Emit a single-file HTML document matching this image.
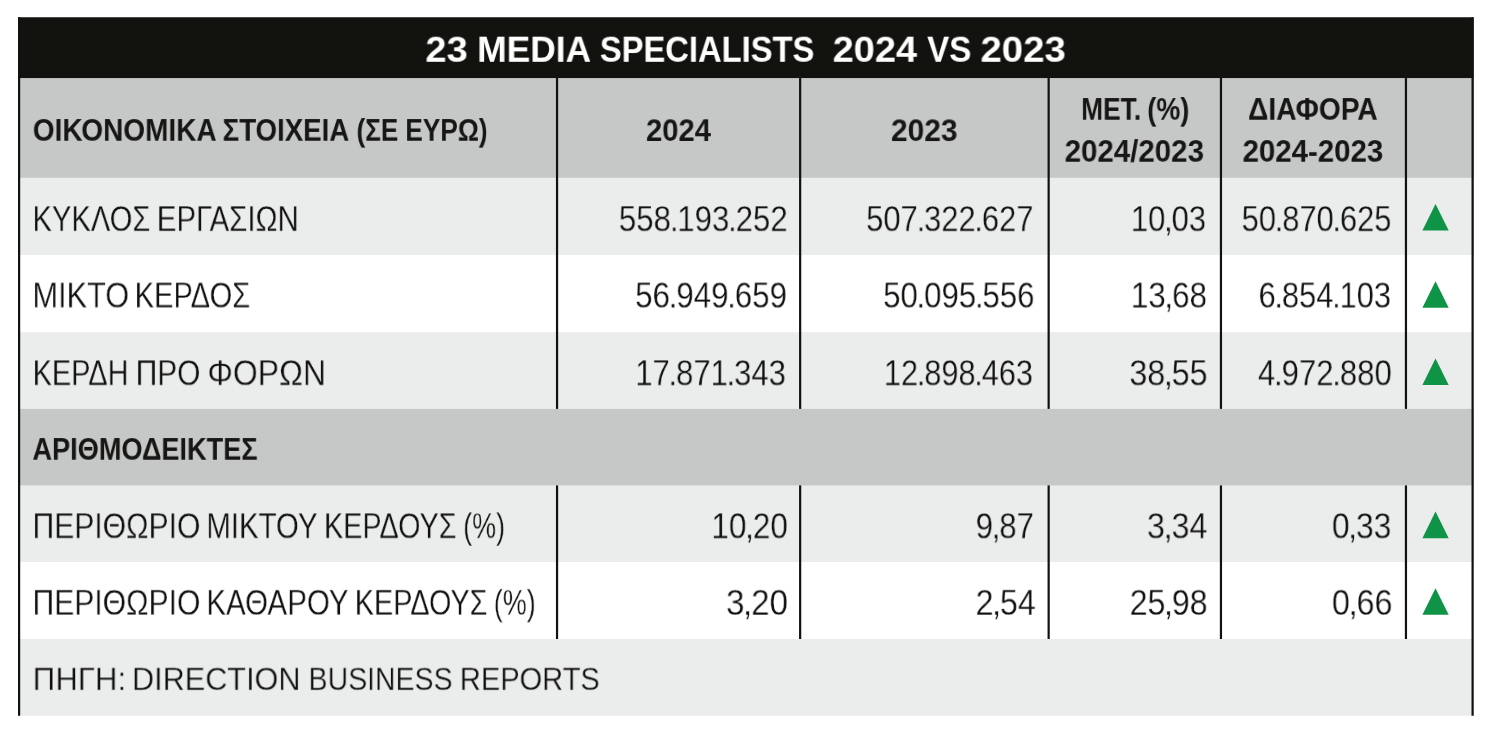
<!DOCTYPE html>
<html lang="el"><head><meta charset="utf-8"><title>23 MEDIA SPECIALISTS 2024 VS 2023</title>
<style>
html,body{margin:0;padding:0;background:#fff;}
body{width:1493px;height:742px;position:relative;overflow:hidden;font-family:"Liberation Sans",sans-serif;}
.bgsvg{position:absolute;left:0;top:0;display:block;}
.t{will-change:transform;position:absolute;left:0;top:0;white-space:nowrap;line-height:1;transform-origin:0 0;display:block;font-family:"Liberation Sans",sans-serif;}
.T{font-weight:bold;font-size:36.0px;color:#ffffff;}
.H{font-weight:bold;font-size:31.5px;color:#161614;}
.B{font-weight:normal;font-size:36.0px;color:#10100e;}
.N{font-weight:normal;font-size:36.0px;color:#10100e;}
.F{font-weight:normal;font-size:32.5px;color:#10100e;}

.N i{font-style:normal;margin:0 -0.04em;}
</style></head><body>

<svg class="bgsvg" width="1493" height="742" viewBox="0 0 1493 742">
<rect x="18.0" y="17.25" width="1455.60" height="698.50" fill="#12120e"/>
<rect x="18.0" y="78.05" width="1455.60" height="637.70" fill="#c6c8c7"/>
<rect x="18.0" y="177.8" width="1455.60" height="537.95" fill="#ebedec"/>
<rect x="18.0" y="255.0" width="1455.60" height="460.75" fill="#ffffff"/>
<rect x="18.0" y="332.2" width="1455.60" height="383.55" fill="#ebedec"/>
<rect x="18.0" y="408.9" width="1455.60" height="306.85" fill="#c6c8c7"/>
<rect x="18.0" y="485.4" width="1455.60" height="230.35" fill="#ebedec"/>
<rect x="18.0" y="562.0" width="1455.60" height="153.75" fill="#ffffff"/>
<rect x="18.0" y="639.0" width="1455.60" height="76.75" fill="#ebedec"/>
<rect x="18.00" y="17.25" width="2.2" height="698.50" fill="#111210"/>
<rect x="1471.50" y="17.25" width="2.2" height="698.50" fill="#111210"/>
<rect x="555.95" y="78.05" width="2.2" height="330.85" fill="#111210"/>
<rect x="555.95" y="485.4" width="2.2" height="153.60" fill="#111210"/>
<rect x="799.05" y="78.05" width="2.2" height="330.85" fill="#111210"/>
<rect x="799.05" y="485.4" width="2.2" height="153.60" fill="#111210"/>
<rect x="1047.55" y="78.05" width="2.2" height="330.85" fill="#111210"/>
<rect x="1047.55" y="485.4" width="2.2" height="153.60" fill="#111210"/>
<rect x="1219.85" y="78.05" width="2.2" height="330.85" fill="#111210"/>
<rect x="1219.85" y="485.4" width="2.2" height="153.60" fill="#111210"/>
<rect x="1404.85" y="78.05" width="2.2" height="330.85" fill="#111210"/>
<rect x="1404.85" y="485.4" width="2.2" height="153.60" fill="#111210"/>
<polygon points="1435.5,204.00 1448.7,230.60 1422.4,230.60" fill="#0f9347"/>
<polygon points="1435.5,281.20 1448.7,307.80 1422.4,307.80" fill="#0f9347"/>
<polygon points="1435.5,358.40 1448.7,385.00 1422.4,385.00" fill="#0f9347"/>
<polygon points="1435.5,511.60 1448.7,538.20 1422.4,538.20" fill="#0f9347"/>
<polygon points="1435.5,588.20 1448.7,614.80 1422.4,614.80" fill="#0f9347"/>
</svg>
<div class="band title">
<span class="t T" style="transform:translate(425.36px,32.80px) scale(1.0579,0.965)">23</span>
<span class="t T" style="transform:translate(477.22px,32.80px) scale(0.9818,0.965)">MEDIA</span>
<span class="t T" style="transform:translate(599.84px,32.80px) scale(0.9088,0.965)">SPECIALISTS</span>
<span class="t T" style="transform:translate(832.66px,32.80px) scale(1.0542,0.965)">2024</span>
<span class="t T" style="transform:translate(927.15px,32.80px) scale(0.9205,0.965)">VS</span>
<span class="t T" style="transform:translate(980.45px,32.80px) scale(1.0655,0.965)">2023</span>
</div>
<div class="band head">
<span class="t H" style="transform:translate(32.81px,115.11px) scale(0.8892,0.986)">ΟΙΚΟΝΟΜΙΚΑ</span>
<span class="t H" style="transform:translate(222.57px,115.11px) scale(0.8784,0.986)">ΣΤΟΙΧΕΙΑ</span>
<span class="t H" style="transform:translate(356.55px,115.11px) scale(0.8255,0.986)">(ΣΕ</span>
<span class="t H" style="transform:translate(405.33px,115.11px) scale(0.8327,0.986)">ΕΥΡΩ)</span>
<span class="t H" style="transform:translate(645.97px,115.31px) scale(0.9285,0.986)">2024</span>
<span class="t H" style="transform:translate(890.94px,115.41px) scale(0.9518,0.986)">2023</span>
<span class="t H" style="transform:translate(1081.12px,94.11px) scale(0.8364,0.986)">ΜΕΤ.</span>
<span class="t H" style="transform:translate(1147.28px,94.11px) scale(0.8578,0.986)">(%)</span>
<span class="t H" style="transform:translate(1064.66px,136.11px) scale(0.9355,0.986)">2024/2023</span>
<span class="t H" style="transform:translate(1248.03px,94.11px) scale(0.8939,0.986)">ΔΙΑΦΟΡΑ</span>
<span class="t H" style="transform:translate(1242.56px,136.11px) scale(0.9345,0.986)">2024-2023</span>
</div>
<div class="band r1">
<span class="t B" style="-webkit-text-stroke:0.3px #ebedec;transform:translate(32.46px,202.27px) scale(0.8106,0.961)">ΚΥΚΛΟΣ</span>
<span class="t B" style="-webkit-text-stroke:0.3px #ebedec;transform:translate(156.84px,202.27px) scale(0.8172,0.961)">ΕΡΓΑΣΙΩΝ</span>
<span class="t N" style="-webkit-text-stroke:0.3px #ebedec;transform:translate(618.83px,202.18px) scale(0.8681,0.969)">558<i>.</i>193<i>.</i>252</span>
<span class="t N" style="-webkit-text-stroke:0.3px #ebedec;transform:translate(866.15px,202.18px) scale(0.8602,0.969)">507<i>.</i>322<i>.</i>627</span>
<span class="t N" style="-webkit-text-stroke:0.3px #ebedec;transform:translate(1130.86px,202.18px) scale(0.8616,0.969)">10<i>,</i>03</span>
<span class="t N" style="-webkit-text-stroke:0.3px #ebedec;transform:translate(1241.65px,202.18px) scale(0.8585,0.969)">50<i>.</i>870<i>.</i>625</span>
</div>
<div class="band r2">
<span class="t B" style="-webkit-text-stroke:0.3px #ffffff;transform:translate(32.42px,278.67px) scale(0.8539,0.961)">ΜΙΚΤΟ</span>
<span class="t B" style="-webkit-text-stroke:0.3px #ffffff;transform:translate(134.66px,278.67px) scale(0.8082,0.961)">ΚΕΡΔΟΣ</span>
<span class="t N" style="-webkit-text-stroke:0.3px #ffffff;transform:translate(635.12px,278.58px) scale(0.8703,0.969)">56<i>.</i>949<i>.</i>659</span>
<span class="t N" style="-webkit-text-stroke:0.3px #ffffff;transform:translate(883.12px,278.58px) scale(0.8674,0.969)">50<i>.</i>095<i>.</i>556</span>
<span class="t N" style="-webkit-text-stroke:0.3px #ffffff;transform:translate(1130.83px,278.58px) scale(0.8726,0.969)">13<i>,</i>68</span>
<span class="t N" style="-webkit-text-stroke:0.3px #ffffff;transform:translate(1258.57px,278.58px) scale(0.8570,0.969)">6<i>.</i>854<i>.</i>103</span>
</div>
<div class="band r3">
<span class="t B" style="-webkit-text-stroke:0.3px #ebedec;transform:translate(32.69px,356.37px) scale(0.8018,0.961)">ΚΕΡΔΗ</span>
<span class="t B" style="-webkit-text-stroke:0.3px #ebedec;transform:translate(135.70px,356.37px) scale(0.8289,0.961)">ΠΡΟ</span>
<span class="t B" style="-webkit-text-stroke:0.3px #ebedec;transform:translate(207.37px,356.37px) scale(0.8874,0.961)">ΦΟΡΩΝ</span>
<span class="t N" style="-webkit-text-stroke:0.3px #ebedec;transform:translate(635.26px,356.28px) scale(0.8631,0.969)">17<i>.</i>871<i>.</i>343</span>
<span class="t N" style="-webkit-text-stroke:0.3px #ebedec;transform:translate(883.89px,356.28px) scale(0.8542,0.969)">12<i>.</i>898<i>.</i>463</span>
<span class="t N" style="-webkit-text-stroke:0.3px #ebedec;transform:translate(1129.33px,356.28px) scale(0.8962,0.969)">38<i>,</i>55</span>
<span class="t N" style="-webkit-text-stroke:0.3px #ebedec;transform:translate(1257.91px,356.28px) scale(0.8665,0.969)">4<i>.</i>972<i>.</i>880</span>
</div>
<div class="band sub">
<span class="t H" style="transform:translate(32.43px,434.11px) scale(0.8622,0.986)">ΑΡΙΘΜΟΔΕΙΚΤΕΣ</span>
</div>
<div class="band r5">
<span class="t B" style="-webkit-text-stroke:0.3px #ebedec;transform:translate(32.48px,509.37px) scale(0.8353,0.961)">ΠΕΡΙΘΩΡΙΟ</span>
<span class="t B" style="-webkit-text-stroke:0.3px #ebedec;transform:translate(206.34px,509.37px) scale(0.8162,0.961)">ΜΙΚΤΟΥ</span>
<span class="t B" style="-webkit-text-stroke:0.3px #ebedec;transform:translate(324.00px,509.37px) scale(0.7995,0.961)">ΚΕΡΔΟΥΣ</span>
<span class="t B" style="-webkit-text-stroke:0.3px #ebedec;transform:translate(463.16px,509.37px) scale(0.7480,0.961)">(%)</span>
<span class="t N" style="-webkit-text-stroke:0.3px #ebedec;transform:translate(711.31px,509.28px) scale(0.8778,0.969)">10<i>,</i>20</span>
<span class="t N" style="-webkit-text-stroke:0.3px #ebedec;transform:translate(975.67px,509.28px) scale(0.8651,0.969)">9<i>,</i>87</span>
<span class="t N" style="-webkit-text-stroke:0.3px #ebedec;transform:translate(1146.92px,509.28px) scale(0.8993,0.969)">3<i>,</i>34</span>
<span class="t N" style="-webkit-text-stroke:0.3px #ebedec;transform:translate(1331.93px,509.28px) scale(0.8825,0.969)">0<i>,</i>33</span>
</div>
<div class="band r6">
<span class="t B" style="-webkit-text-stroke:0.3px #ffffff;transform:translate(32.48px,585.97px) scale(0.8353,0.961)">ΠΕΡΙΘΩΡΙΟ</span>
<span class="t B" style="-webkit-text-stroke:0.3px #ffffff;transform:translate(206.33px,585.97px) scale(0.8194,0.961)">ΚΑΘΑΡΟΥ</span>
<span class="t B" style="-webkit-text-stroke:0.3px #ffffff;transform:translate(354.79px,585.97px) scale(0.8002,0.961)">ΚΕΡΔΟΥΣ</span>
<span class="t B" style="-webkit-text-stroke:0.3px #ffffff;transform:translate(493.75px,585.97px) scale(0.7500,0.961)">(%)</span>
<span class="t N" style="-webkit-text-stroke:0.3px #ffffff;transform:translate(725.97px,585.88px) scale(0.9225,0.969)">3<i>,</i>20</span>
<span class="t N" style="-webkit-text-stroke:0.3px #ffffff;transform:translate(975.59px,585.88px) scale(0.8939,0.969)">2<i>,</i>54</span>
<span class="t N" style="-webkit-text-stroke:0.3px #ffffff;transform:translate(1129.70px,585.88px) scale(0.8918,0.969)">25<i>,</i>98</span>
<span class="t N" style="-webkit-text-stroke:0.3px #ffffff;transform:translate(1331.90px,585.88px) scale(0.9000,0.969)">0<i>,</i>66</span>
</div>
<div class="band foot">
<span class="t F" style="-webkit-text-stroke:0.3px #ebedec;transform:translate(32.72px,663.72px) scale(0.9604,0.978)">ΠΗΓΗ:</span>
<span class="t F" style="-webkit-text-stroke:0.3px #ebedec;transform:translate(131.97px,663.72px) scale(0.9427,0.978)">DIRECTION</span>
<span class="t F" style="-webkit-text-stroke:0.3px #ebedec;transform:translate(308.57px,663.72px) scale(0.8761,0.978)">BUSINESS</span>
<span class="t F" style="-webkit-text-stroke:0.3px #ebedec;transform:translate(459.82px,663.72px) scale(0.8947,0.978)">REPORTS</span>
</div>
</body></html>
